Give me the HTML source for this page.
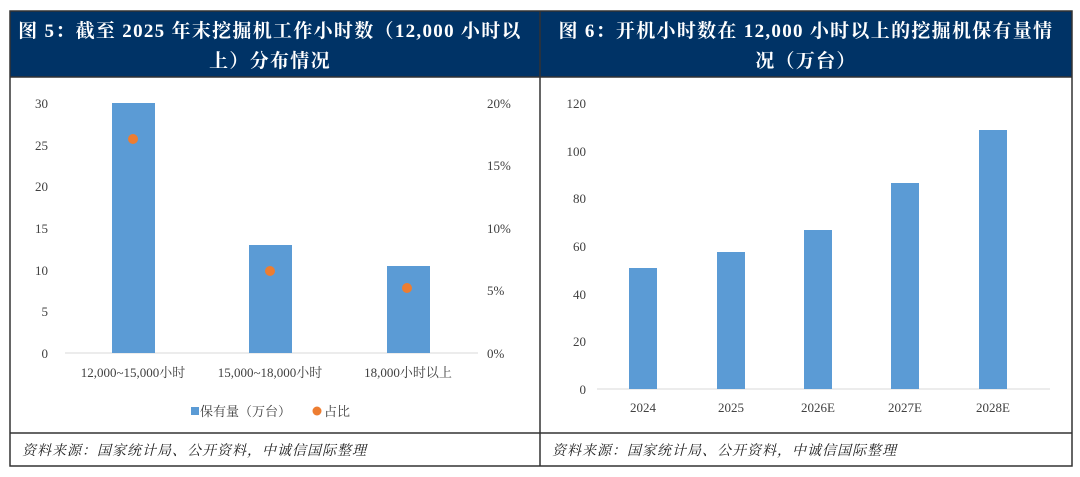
<!DOCTYPE html>
<html><head><meta charset="utf-8"><style>
body{margin:0;background:#fff;width:1080px;height:477px;overflow:hidden}
svg{display:block}
</style></head><body>
<svg width="1080" height="477" xmlns="http://www.w3.org/2000/svg" font-family="'Liberation Serif','Noto Serif CJK SC',serif">
<rect x="0" y="0" width="1080" height="477" fill="#fff"/>
<rect x="10" y="11" width="1062" height="66" fill="#003366"/>
<rect x="10" y="11" width="1062" height="455" fill="none" stroke="#333" stroke-width="1.5"/>
<line x1="540" y1="11" x2="540" y2="466" stroke="#333" stroke-width="1.5"/>
<line x1="10" y1="77" x2="1072" y2="77" stroke="#333" stroke-width="1.5"/>
<line x1="10" y1="433" x2="1072" y2="433" stroke="#333" stroke-width="1.5"/>
<g fill="#fff" font-weight="bold" font-size="19" text-anchor="middle" letter-spacing="1.3">
<text x="270" y="37">图 5：截至 2025 年末挖掘机工作小时数（12,000 小时以</text>
<text x="270" y="67">上）分布情况</text>
<text x="806" y="37">图 6：开机小时数在 12,000 小时以上的挖掘机保有量情</text>
<text x="806" y="67">况（万台）</text>
</g>
<g font-size="13" fill="#404040">
<g text-anchor="end">
<text x="48" y="108">30</text><text x="48" y="150">25</text><text x="48" y="191">20</text>
<text x="48" y="233">15</text><text x="48" y="275">10</text><text x="48" y="316">5</text><text x="48" y="358">0</text>
</g>
<g text-anchor="start">
<text x="487" y="108">20%</text><text x="487" y="170">15%</text><text x="487" y="233">10%</text>
<text x="487" y="295">5%</text><text x="487" y="358">0%</text>
</g>
<line x1="65" y1="353" x2="478" y2="353" stroke="#d9d9d9"/>
<rect x="112" y="103" width="43" height="250" fill="#5b9bd5"/>
<rect x="249" y="245" width="43" height="108" fill="#5b9bd5"/>
<rect x="387" y="266" width="43" height="87" fill="#5b9bd5"/>
<circle cx="133" cy="139" r="5" fill="#ed7d31"/>
<circle cx="270" cy="271" r="5" fill="#ed7d31"/>
<circle cx="407" cy="288" r="5" fill="#ed7d31"/>
<g text-anchor="middle">
<text x="133" y="377">12,000~15,000小时</text>
<text x="270" y="377">15,000~18,000小时</text>
<text x="408" y="377">18,000小时以上</text>
</g>
<rect x="191" y="407" width="8" height="8" fill="#5b9bd5"/>
<text x="200" y="416">保有量（万台）</text>
<circle cx="317" cy="411" r="4.5" fill="#ed7d31"/>
<text x="324" y="416">占比</text>

<g text-anchor="end">
<text x="586" y="108">120</text><text x="586" y="156">100</text><text x="586" y="203">80</text>
<text x="586" y="251">60</text><text x="586" y="299">40</text><text x="586" y="346">20</text><text x="586" y="394">0</text>
</g>
<line x1="597" y1="389" x2="1050" y2="389" stroke="#d9d9d9"/>
<rect x="629" y="268" width="28" height="121" fill="#5b9bd5"/>
<rect x="717" y="252" width="28" height="137" fill="#5b9bd5"/>
<rect x="804" y="230" width="28" height="159" fill="#5b9bd5"/>
<rect x="891" y="183" width="28" height="206" fill="#5b9bd5"/>
<rect x="979" y="130" width="28" height="259" fill="#5b9bd5"/>
<g text-anchor="middle">
<text x="643" y="412">2024</text><text x="731" y="412">2025</text><text x="818" y="412">2026E</text>
<text x="905" y="412">2027E</text><text x="993" y="412">2028E</text>
</g>
</g>
<g font-size="14" font-style="italic" fill="#222" letter-spacing="1">
<text x="22" y="455">资料来源：国家统计局、公开资料，中诚信国际整理</text>
<text x="552" y="455">资料来源：国家统计局、公开资料，中诚信国际整理</text>
</g>
</svg>
</body></html>
